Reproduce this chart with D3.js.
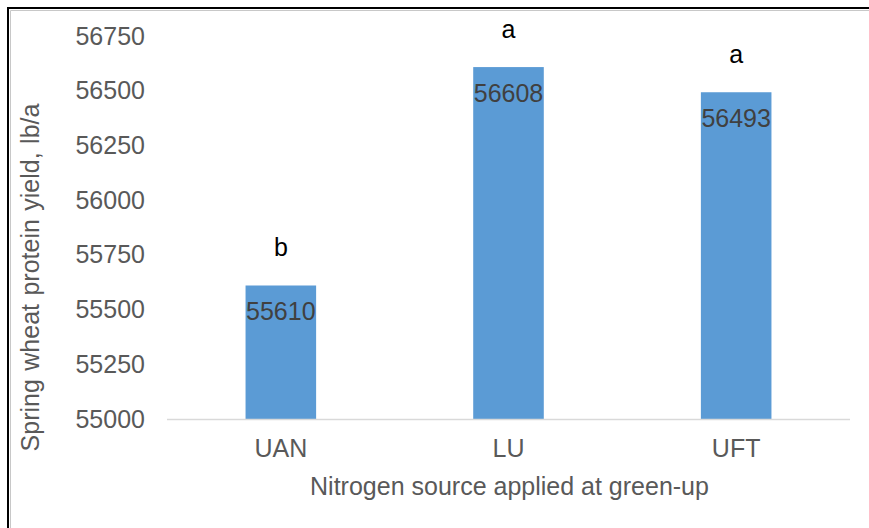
<!DOCTYPE html>
<html>
<head>
<meta charset="utf-8">
<script src="https://cdn.jsdelivr.net/npm/d3@7"></script>
<style>
  html, body { margin: 0; padding: 0; background: #fff; }
  svg { display: block; font-family: "Liberation Sans", Arial, sans-serif; }
</style>
</head>
<body>
<svg id="chart" width="869" height="528"></svg>
<script>
// Spring wheat protein yield by nitrogen source
const sources = ["UAN", "LU", "UFT"];
const yields = [55610, 56608, 56493];
const groups = ["b", "a", "a"];
const yTicks = [55000, 55250, 55500, 55750, 56000, 56250, 56500, 56750];

const svg = d3.select("#chart");
const W = 869, H = 528;
const plot = { left: 167, right: 850, top: 36, bottom: 419 };
const FS = 25;

// outer frame
svg.append("path")
  .attr("d", `M8,${H} V8 H${W}`)
  .attr("fill", "none").attr("stroke", "#000").attr("stroke-width", 2);
svg.append("path")
  .attr("d", `M10.5,${H} V10.5 H${W}`)
  .attr("fill", "none").attr("stroke", "#c8c8c8").attr("stroke-width", 1);

const x = d3.scaleBand()
  .domain(sources)
  .range([plot.left, plot.right])
  .paddingInner(0.69)
  .paddingOuter(0.345);

const y = d3.scaleLinear()
  .domain([55000, 56750])
  .range([plot.bottom, plot.top]);

// y axis labels (no line, no ticks)
const yAxis = svg.append("g")
  .attr("transform", `translate(${plot.left - 22},0)`)
  .call(d3.axisLeft(y).tickValues(yTicks).tickSize(0).tickPadding(0).tickFormat(d3.format("d")));
yAxis.select(".domain").remove();
yAxis.selectAll("text")
  .attr("font-size", FS).attr("fill", "#595959")
  .attr("font-family", "Liberation Sans, Arial, sans-serif");

// bars
svg.append("g").selectAll("rect")
  .data(sources)
  .join("rect")
  .attr("x", d => x(d))
  .attr("width", x.bandwidth())
  .attr("y", (d, i) => y(yields[i]))
  .attr("height", (d, i) => y(55000) - y(yields[i]))
  .attr("fill", "#5B9BD5");

// x axis
const xAxis = svg.append("g")
  .attr("transform", `translate(0,${plot.bottom})`)
  .call(d3.axisBottom(x).tickSize(0).tickPadding(20));
xAxis.select(".domain")
  .attr("stroke", "#d9d9d9").attr("stroke-width", 1.5)
  .attr("d", `M${plot.left},0.5H${plot.right}`);
xAxis.selectAll("text")
  .attr("font-size", FS).attr("fill", "#595959")
  .attr("font-family", "Liberation Sans, Arial, sans-serif");

// value labels inside bars
svg.append("g").selectAll("text")
  .data(sources)
  .join("text")
  .attr("x", d => x(d) + x.bandwidth() / 2)
  .attr("y", (d, i) => y(yields[i]) + 35)
  .attr("text-anchor", "middle")
  .attr("font-size", FS).attr("fill", "#404040")
  .text((d, i) => yields[i]);

// significance letters
svg.append("g").selectAll("text")
  .data(sources)
  .join("text")
  .attr("x", d => x(d) + x.bandwidth() / 2)
  .attr("y", (d, i) => y(yields[i]) - 29)
  .attr("text-anchor", "middle")
  .attr("font-size", FS).attr("fill", "#000")
  .text((d, i) => groups[i]);

// axis titles
svg.append("text")
  .attr("x", (plot.left + plot.right) / 2 + 1)
  .attr("y", 495)
  .attr("text-anchor", "middle")
  .attr("font-size", FS).attr("fill", "#595959")
  .text("Nitrogen source applied at green-up");

svg.append("text")
  .attr("transform", `translate(39,${(107 + 448) / 2}) rotate(-90)`)
  .attr("text-anchor", "middle")
  .attr("font-size", FS).attr("fill", "#595959")
  .attr("word-spacing", 1.5)
  .text("Spring wheat protein yield, lb/a");
</script>
</body>
</html>
